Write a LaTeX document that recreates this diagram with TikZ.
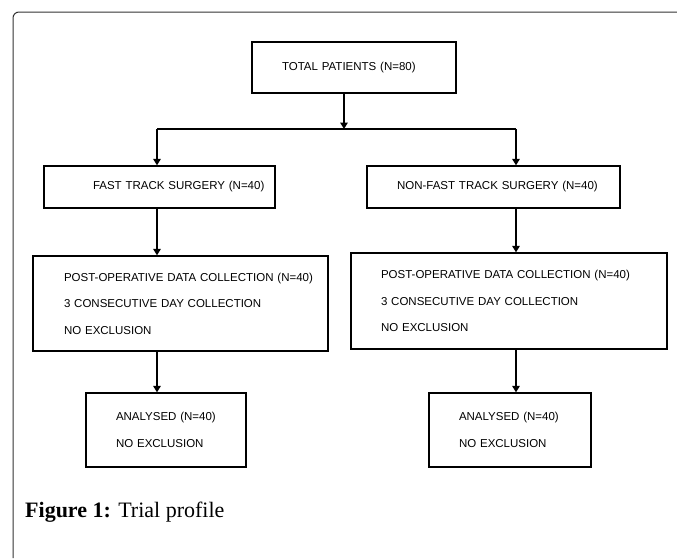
\documentclass[tikz,border=0pt]{standalone}
\usepackage{fontspec}
\setmainfont{Liberation Serif}
\newfontfamily\flowfont{Liberation Sans}
\usepackage{tikz}
\usetikzlibrary{arrows.meta, positioning}
\colorlet{framegray}{black!80}
\newcommand{\boxfont}{\flowfont\fontsize{11.5}{26.5}\selectfont}

\tikzset{
  flowbox/.style={draw=black, line width=1.3pt, inner xsep=0pt, inner ysep=4pt,
    align=left, font=\boxfont},
  textindent/.style={execute at begin node={\leftskip=#1\relax}},
  flowline/.style={line width=1.5pt},
  flowarrow/.style={flowline, -{Triangle[width=7.5pt,length=6.5pt]}}
}

\begin{document}
\begin{tikzpicture}[x=1pt, y=-1pt]
    \useasboundingbox (0,0) rectangle (677,558);
    % page frame
    \draw[framegray, line width=1pt, rounded corners=6pt] (13,558) -- (13,12) -- (677,12);

    % top box
    \node[flowbox, text width=204pt, minimum height=51pt, textindent=30pt] (total) at (354,67.5)
      {TOTAL PATIENTS (N=80)};

    % the two arms
    \node[flowbox, text width=231pt, minimum height=42pt, textindent=49pt] (fast) at (159.5,187)
      {FAST TRACK SURGERY (N=40)};
    \node[flowbox, text width=253pt, minimum height=42pt, textindent=30pt] (nonfast) at (493.5,187)
      {NON-FAST TRACK SURGERY (N=40)};

    % data collection
    \node[flowbox, text width=295pt, minimum height=95pt, textindent=31pt] (postl) at (180.5,303.5)
      {POST-OPERATIVE DATA COLLECTION (N=40)\\3 CONSECUTIVE DAY COLLECTION\\NO EXCLUSION};
    \node[flowbox, text width=316pt, minimum height=96pt, textindent=30pt] (postr) at (509,301)
      {POST-OPERATIVE DATA COLLECTION (N=40)\\3 CONSECUTIVE DAY COLLECTION\\NO EXCLUSION};

    % analysis
    \node[flowbox, text width=160pt, minimum height=74pt, textindent=30pt] (anl) at (166,430)
      {ANALYSED (N=40)\\NO EXCLUSION};
    \node[flowbox, text width=162pt, minimum height=74pt, textindent=30pt] (anr) at (510,430)
      {ANALYSED (N=40)\\NO EXCLUSION};

    % split
    \coordinate (split) at (344,129);
    \coordinate (lbranch) at (157,129);
    \coordinate (rbranch) at (516,129);
    \draw[flowarrow] (split |- total.south) -- (split);
    \draw[flowline] (lbranch) -- (rbranch);

    % left arm
    \draw[flowarrow] (lbranch) -- (lbranch |- fast.north);
    \draw[flowarrow] (lbranch |- fast.south) -- (lbranch |- postl.north);
    \draw[flowarrow] (lbranch |- postl.south) -- (lbranch |- anl.north);

    % right arm
    \draw[flowarrow] (rbranch) -- (rbranch |- nonfast.north);
    \draw[flowarrow] (rbranch |- nonfast.south) -- (rbranch |- postr.north);
    \draw[flowarrow] (rbranch |- postr.south) -- (rbranch |- anr.north);

    % caption
    \node[anchor=base west, inner sep=0pt, font=\fontsize{22}{26}\selectfont] (caption) at (25,517)
      {\textbf{Figure 1:} Trial profile};
  \end{tikzpicture}
\end{document}
